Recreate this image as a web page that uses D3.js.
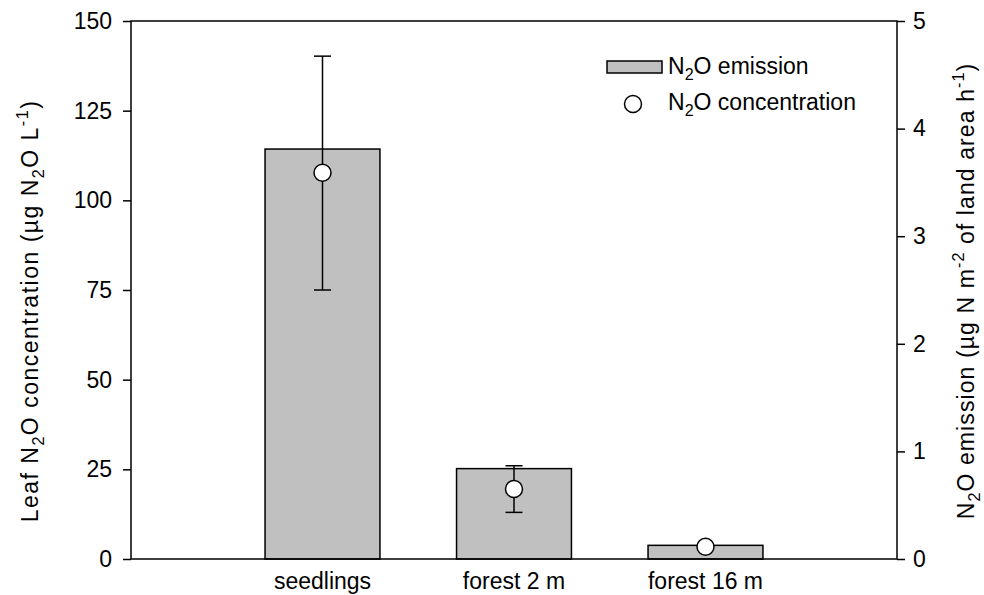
<!DOCTYPE html>
<meta charset="utf-8">
<script src="https://d3js.org/d3.v7.min.js"></script>
<style>
  body { margin: 0; background: #fff; }
  text { font-family: "Liberation Sans", Arial, sans-serif; fill: #000; }
</style>
<body>
<div id="canvas"></div>
<script>
    // dados ------------------------------------------------------------
    var categories = ["seedlings", "forest 2 m", "forest 16 m"];
    var emission = [3.81, 0.84, 0.127];          // eixo direito (barras)
    var concentration = [107.7, 19.5, 3.4];      // eixo esquerdo (circulos)
    var concLow = [75, 13, null];
    var concHigh = [140.2, 26, null];
    var leftTicks = [0, 25, 50, 75, 100, 125, 150];
    var rightTicks = [0, 1, 2, 3, 4, 5];

    var width = 984;
    var height = 595;
    var margin = {top: 21, right: 87, bottom: 36, left: 131};
    var fs = 23;

    var svg = d3.select('#canvas')
        .append("svg")
        .attr('width', width)
        .attr('height', height);

    var x = d3.scaleLinear()
        .domain([0, 4])
        .range([margin.left, width - margin.right]);
    var yL = d3.scaleLinear()
        .domain([0, 150])
        .range([height - margin.bottom, margin.top]);
    var yR = d3.scaleLinear()
        .domain([0, 5])
        .range([height - margin.bottom, margin.top]);

    var barW = (x(1) - x(0)) * 0.6;

    // barras -----------------------------------------------------------
    svg.selectAll(".bar")
        .data(emission)
        .enter()
        .append("rect")
        .attr("x", function(d, i) { return x(i + 1) - barW / 2; })
        .attr("y", function(d) { return yR(d); })
        .attr("width", barW)
        .attr("height", function(d) { return yR(0) - yR(d); })
        .attr("fill", "#c0c0c0")
        .attr("stroke", "#000")
        .attr("stroke-width", 1.5);

    // eixos ------------------------------------------------------------
    var axL = svg.append("g")
        .attr("transform", "translate(" + margin.left + ",0)")
        .call(d3.axisLeft(yL).tickValues(leftTicks).tickSize(8).tickPadding(11));
    var axR = svg.append("g")
        .attr("transform", "translate(" + (width - margin.right) + ",0)")
        .call(d3.axisRight(yR).tickValues(rightTicks).tickFormat(d3.format("d")).tickSize(8).tickPadding(8));
    [axL, axR].forEach(function(a) {
        a.attr("font-size", fs).attr("font-family", "Liberation Sans, Arial, sans-serif");
        a.select(".domain").remove();
        a.selectAll("line").attr("stroke-width", 1.5);
    });

    // moldura
    svg.append("rect")
        .attr("x", margin.left)
        .attr("y", margin.top)
        .attr("width", x(4) - x(0))
        .attr("height", yL(0) - yL(150))
        .attr("fill", "none")
        .attr("stroke", "#000")
        .attr("stroke-width", 1.5);

    // rotulos categorias
    svg.selectAll(".cat")
        .data(categories)
        .enter()
        .append("text")
        .attr("x", function(d, i) { return x(i + 1); })
        .attr("y", 589)
        .attr("text-anchor", "middle")
        .attr("font-size", fs)
        .text(function(d) { return d; });

    // barras de erro ---------------------------------------------------
    var errs = concentration.map(function(d, i) { return {i: i, lo: concLow[i], hi: concHigh[i]}; })
        .filter(function(d) { return d.lo != null; });
    var eg = svg.selectAll(".err").data(errs).enter().append("g")
        .attr("stroke", "#000").attr("stroke-width", 1.5);
    eg.append("line")
        .attr("x1", function(d) { return x(d.i + 1); })
        .attr("x2", function(d) { return x(d.i + 1); })
        .attr("y1", function(d) { return yL(d.lo); })
        .attr("y2", function(d) { return yL(d.hi); });
    [ "lo", "hi" ].forEach(function(k) {
        eg.append("line")
            .attr("x1", function(d) { return x(d.i + 1) - 8.5; })
            .attr("x2", function(d) { return x(d.i + 1) + 8.5; })
            .attr("y1", function(d) { return yL(d[k]); })
            .attr("y2", function(d) { return yL(d[k]); });
    });

    // circulos ---------------------------------------------------------
    svg.selectAll(".dot")
        .data(concentration)
        .enter()
        .append("circle")
        .attr("cx", function(d, i) { return x(i + 1); })
        .attr("cy", function(d) { return yL(d); })
        .attr("r", 8.5)
        .attr("fill", "#fff")
        .attr("stroke", "#000")
        .attr("stroke-width", 1.5);

    // texto com sub/sobrescrito (baseline-shift)
    function rich(t, parts, size) {
        t.attr("font-size", size);
        parts.forEach(function(p) {
            var s = t.append("tspan").text(p[0]);
            if (p[1] === "sub") {
                s.attr("font-size", size * 0.7).attr("baseline-shift", -size * 0.28);
            } else if (p[1] === "sup") {
                s.attr("font-size", size * 0.7).attr("baseline-shift", size * 0.42);
            }
        });
        return t;
    }

    // legenda ----------------------------------------------------------
    svg.append("rect")
        .attr("x", 607).attr("y", 61).attr("width", 55).attr("height", 12)
        .attr("fill", "#c0c0c0").attr("stroke", "#000").attr("stroke-width", 1.5);
    rich(svg.append("text").attr("x", 668).attr("y", 74),
        [["N"], ["2", "sub"], ["O emission"]], fs);
    svg.append("circle")
        .attr("cx", 633).attr("cy", 104).attr("r", 8.5)
        .attr("fill", "#fff").attr("stroke", "#000").attr("stroke-width", 1.5);
    rich(svg.append("text").attr("x", 668).attr("y", 110),
        [["N"], ["2", "sub"], ["O concentration"]], fs);

    // titulos dos eixos ------------------------------------------------
    rich(svg.append("text")
            .attr("transform", "translate(38,311) rotate(-90)")
            .attr("text-anchor", "middle")
            .attr("letter-spacing", 1.5),
        [["Leaf N"], ["2", "sub"], ["O concentration (\u00b5g N"], ["2", "sub"], ["O L"], ["-1", "sup"], [")"]], fs);
    rich(svg.append("text")
            .attr("transform", "translate(974,291) rotate(-90)")
            .attr("text-anchor", "middle")
            .attr("letter-spacing", 1.1),
        [["N"], ["2", "sub"], ["O emission (\u00b5g N m"], ["-2", "sup"], ["  of land area h"], ["-1", "sup"], [")"]], fs);
</script>
</body>
